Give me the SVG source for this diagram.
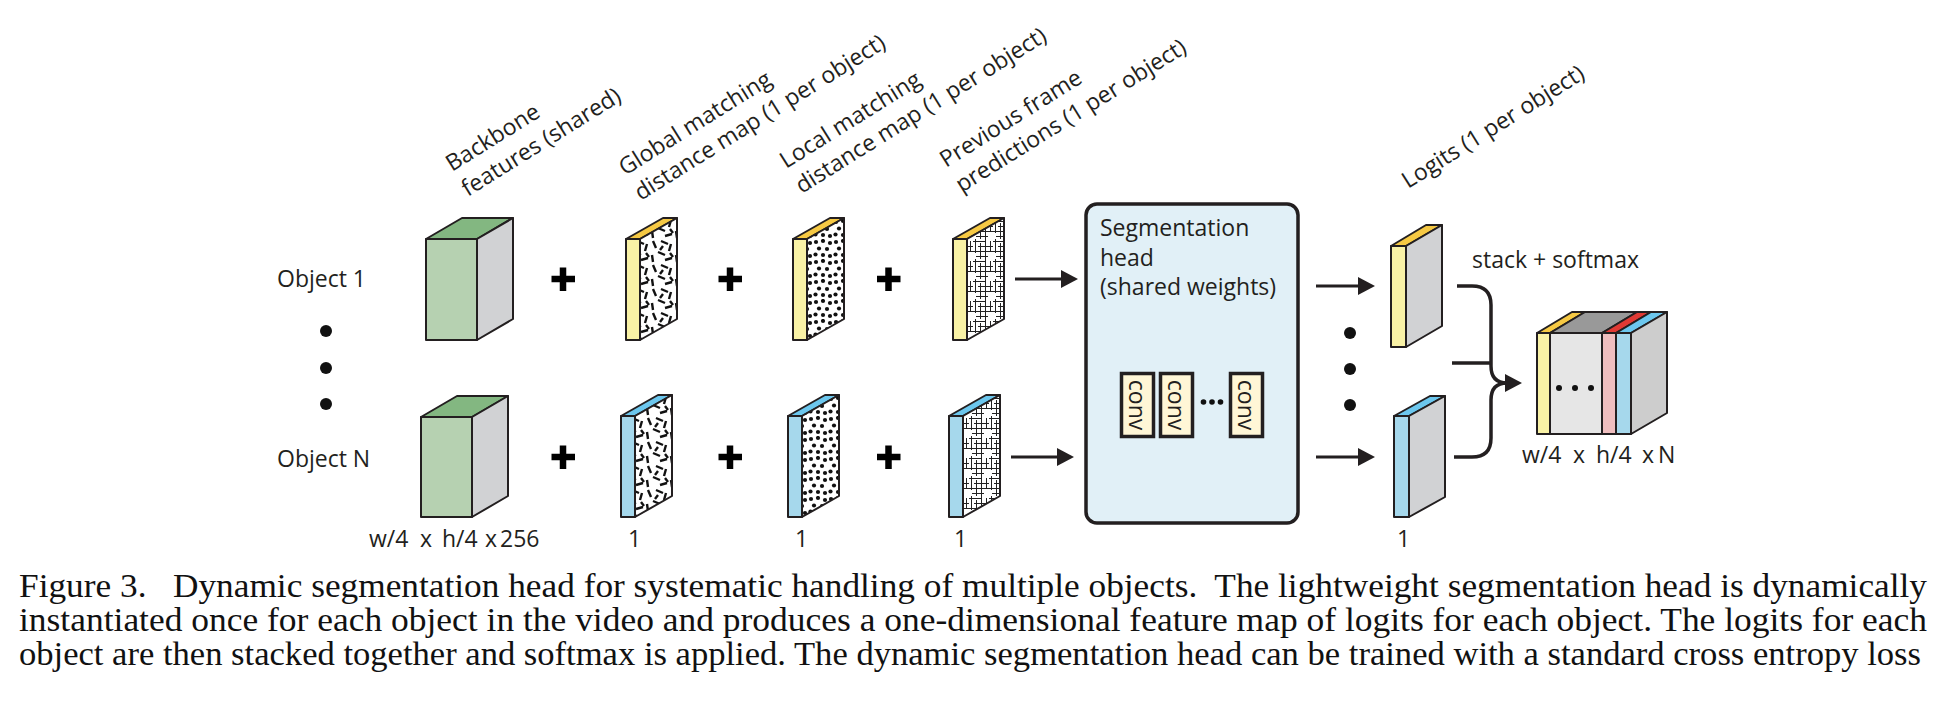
<svg xmlns="http://www.w3.org/2000/svg" width="1946" height="704" viewBox="0 0 1946 704">
<defs>
<style>
.t{font-family:"Open Sans","Noto Sans",sans-serif;font-size:23px;fill:#231F20}
.cap{font-family:"Liberation Serif","Times New Roman",serif;font-size:33px;fill:#111}
.o{stroke:#231F20;stroke-width:2;stroke-linejoin:round}
.yf{fill:#F9F2A6}.yt{fill:#F6C944}.bf{fill:#A6D8EC}.bt{fill:#6CC7EE}
.gs{fill:#D1D2D4}
.gf{fill:#B6D1B1}.gt{fill:#83B781}
.plus{stroke:#000;stroke-width:6.5;fill:none}
.arr{stroke:#231F20;stroke-width:3;fill:none}
.conv{fill:#FFF6D6;stroke:#231F20;stroke-width:3.5}
</style>
<marker id="ah" markerUnits="userSpaceOnUse" markerWidth="18" markerHeight="18" refX="2" refY="9" orient="auto">
<path d="M0,0 L17,9 L0,18 z" fill="#231F20"/>
</marker>
<pattern id="dash" patternUnits="userSpaceOnUse" width="24" height="24">
<rect width="24" height="24" fill="#fff"/>
<path d="M3,2 l3,7 M11,2 l7,3 M21,5 l-2,7 M8,13 l7,3 M2,16 l1,7 M15,21 l7,-2 M13,7 l-3,4 M20,14 l3,4" stroke="#111" stroke-width="2.4" fill="none"/>
</pattern>
<pattern id="dots" patternUnits="userSpaceOnUse" width="20" height="20">
<rect width="20" height="20" fill="#fff"/>
<g fill="#111">
<circle cx="3" cy="3" r="2.1"/><circle cx="10" cy="2" r="2.1"/><circle cx="17" cy="4" r="2.1"/>
<circle cx="6" cy="9.5" r="2.1"/><circle cx="14" cy="10" r="2.1"/>
<circle cx="2.5" cy="15.5" r="2.1"/><circle cx="10" cy="16" r="2.1"/><circle cx="17" cy="17" r="2.1"/>
</g>
</pattern>
<pattern id="hatch" patternUnits="userSpaceOnUse" width="20" height="20">
<rect width="20" height="20" fill="#fff"/>
<path d="M0,2.5 H13 M5,7.5 H20 M0,12.5 H20 M3,17.5 H15 M2.5,0 V14 M7.5,4 V20 M12.5,0 V20 M17.5,2 V12" stroke="#222" stroke-width="1" fill="none"/>
</pattern>
</defs>
<rect width="1946" height="704" fill="#fff"/>

<!-- labels -->
<g id="labels" class="t">
<text class="t" transform="translate(452,172) rotate(-32)"><tspan x="0" y="0">Backbone</tspan><tspan x="0" y="29.5">features (shared)</tspan></text>
<text class="t" transform="translate(625,176) rotate(-32)"><tspan x="0" y="0">Global matching</tspan><tspan x="0" y="29.5">distance map (1 per object)</tspan></text>
<text class="t" transform="translate(786,169) rotate(-32)"><tspan x="0" y="0">Local matching</tspan><tspan x="0" y="29.5">distance map (1 per object)</tspan></text>
<text class="t" transform="translate(946,168) rotate(-32)"><tspan x="0" y="0">Previous frame</tspan><tspan x="0" y="29.5">predictions (1 per object)</tspan></text>
<text class="t" transform="translate(1408,189) rotate(-32)">Logits (1 per object)</text>
<text class="t" x="277" y="287">Object 1</text>
<text class="t" x="277" y="467">Object N</text>
<text class="t" y="547"><tspan x="369">w/4</tspan><tspan x="420">x</tspan><tspan x="442">h/4</tspan><tspan x="485">x</tspan><tspan x="500">256</tspan></text>
<text class="t" x="628" y="547">1</text>
<text class="t" x="795" y="547">1</text>
<text class="t" x="954" y="547">1</text>
<text class="t" x="1397" y="547">1</text>
<text class="t" x="1472" y="268">stack + softmax</text>
<text class="t" y="463"><tspan x="1522">w/4</tspan><tspan x="1573">x</tspan><tspan x="1596">h/4</tspan><tspan x="1642">x</tspan><tspan x="1658">N</tspan></text>
</g>

<!-- vertical ellipsis dots -->
<g id="dots-left" fill="#111">
<circle cx="326" cy="331" r="6"/><circle cx="326" cy="368" r="6"/><circle cx="326" cy="404" r="6"/>
</g>
<g id="dots-right" fill="#111">
<circle cx="1350" cy="333" r="6"/><circle cx="1350" cy="369" r="6"/><circle cx="1350" cy="405" r="6"/>
</g>

<!-- plus signs -->
<g id="plus-signs" class="plus">
<path d="M551.5,279 H575 M563,267.5 V291"/>
<path d="M718.5,279 H742 M730,267.5 V291"/>
<path d="M877,279 H900.5 M888.5,267.5 V291"/>
<path d="M551.5,457 H575 M563,445.5 V469"/>
<path d="M718.5,457 H742 M730,445.5 V469"/>
<path d="M877,457 H900.5 M888.5,445.5 V469"/>
</g>

<!-- backbone -->
<g id="obj1-backbone" transform="translate(426,239)">
<rect class="o gf" width="51" height="101"/>
<polygon class="o gt" points="0,0 36,-21 87,-21 51,0"/>
<polygon class="o gs" points="51,0 87,-21 87,80 51,101"/>
</g>
<g id="objN-backbone" transform="translate(421,417)">
<rect class="o gf" width="51" height="100"/>
<polygon class="o gt" points="0,0 36,-21 87,-21 51,0"/>
<polygon class="o gs" points="51,0 87,-21 87,79 51,100"/>
</g>

<!-- global matching -->
<g id="obj1-global" transform="translate(626,239)">
<rect class="o yf" width="14" height="101"/>
<polygon class="o yt" points="0,0 37,-21 51,-21 14,0"/>
<polygon class="o" fill="url(#dash)" points="14,0 51,-21 51,80 14,101"/>
</g>
<g id="objN-global" transform="translate(621,416)">
<rect class="o bf" width="14" height="101"/>
<polygon class="o bt" points="0,0 37,-21 51,-21 14,0"/>
<polygon class="o" fill="url(#dash)" points="14,0 51,-21 51,80 14,101"/>
</g>

<!-- local matching -->
<g id="obj1-local" transform="translate(793,239)">
<rect class="o yf" width="14" height="101"/>
<polygon class="o yt" points="0,0 37,-21 51,-21 14,0"/>
<polygon class="o" fill="url(#dots)" points="14,0 51,-21 51,80 14,101"/>
</g>
<g id="objN-local" transform="translate(788,416)">
<rect class="o bf" width="14" height="101"/>
<polygon class="o bt" points="0,0 37,-21 51,-21 14,0"/>
<polygon class="o" fill="url(#dots)" points="14,0 51,-21 51,80 14,101"/>
</g>

<!-- previous frame -->
<g id="obj1-prev" transform="translate(953,239)">
<rect class="o yf" width="14" height="101"/>
<polygon class="o yt" points="0,0 37,-21 51,-21 14,0"/>
<polygon class="o" fill="url(#hatch)" points="14,0 51,-21 51,80 14,101"/>
</g>
<g id="objN-prev" transform="translate(949,416)">
<rect class="o bf" width="14" height="101"/>
<polygon class="o bt" points="0,0 37,-21 51,-21 14,0"/>
<polygon class="o" fill="url(#hatch)" points="14,0 51,-21 51,80 14,101"/>
</g>

<!-- segmentation head -->
<g id="seg-head">
<rect x="1086" y="204" width="212" height="319" rx="11" fill="#E1F0F7" stroke="#231F20" stroke-width="3.5"/>
<text class="t"><tspan x="1100" y="236">Segmentation</tspan><tspan x="1100" y="265.5">head</tspan><tspan x="1100" y="295">(shared weights)</tspan></text>
<rect class="conv" x="1121.5" y="373.5" width="32" height="63"/>
<rect class="conv" x="1160.5" y="373.5" width="32" height="63"/>
<rect class="conv" x="1230.5" y="373.5" width="32" height="63"/>
<text class="t" font-size="20" text-anchor="middle" dominant-baseline="central" transform="translate(1137.5,405) rotate(90)">conv</text>
<text class="t" font-size="20" text-anchor="middle" dominant-baseline="central" transform="translate(1176.5,405) rotate(90)">conv</text>
<text class="t" font-size="20" text-anchor="middle" dominant-baseline="central" transform="translate(1246.5,405) rotate(90)">conv</text>
<g fill="#111"><circle cx="1203.5" cy="402" r="2.8"/><circle cx="1212" cy="402" r="2.8"/><circle cx="1220.5" cy="402" r="2.8"/></g>
</g>

<!-- logits -->
<g id="obj1-logits" transform="translate(1391,246)">
<rect class="o yf" width="15" height="101"/>
<polygon class="o yt" points="0,0 35,-21 51,-21 15,0"/>
<polygon class="o gs" points="15,0 51,-21 51,80 15,101"/>
</g>
<g id="objN-logits" transform="translate(1394,416)">
<rect class="o bf" width="15" height="101"/>
<polygon class="o bt" points="0,0 36,-20 51,-20 15,0"/>
<polygon class="o gs" points="15,0 51,-20 51,81 15,101"/>
</g>

<!-- stacked output -->
<g id="stacked-output" transform="translate(1537,333)">
<rect class="o yf" x="0" width="13" height="101"/>
<rect class="o" fill="#E6E6E6" x="13" width="52" height="101"/>
<rect class="o" fill="#EFBEBF" x="65" width="14" height="101"/>
<rect class="o bf" x="79" width="15" height="101"/>
<polygon class="o yt" points="0,0 35,-21 48,-21 13,0"/>
<polygon class="o" fill="#999" points="13,0 48,-21 100,-21 65,0"/>
<polygon class="o" fill="#E03A34" points="65,0 100,-21 114,-21 79,0"/>
<polygon class="o bt" points="79,0 114,-21 130,-21 94,0"/>
<polygon class="o" fill="#CDCDCD" points="94,0 130,-21 130,80 94,101"/>
<g fill="#111"><circle cx="22" cy="55" r="3"/><circle cx="38" cy="55" r="3"/><circle cx="54" cy="55" r="3"/></g>
</g>

<!-- connectors -->
<g id="connectors" class="arr">
<path d="M1015,279 H1063" marker-end="url(#ah)"/>
<path d="M1011,457 H1059" marker-end="url(#ah)"/>
<path d="M1316,286 H1360" marker-end="url(#ah)"/>
<path d="M1316,457 H1360" marker-end="url(#ah)"/>
<path d="M1457,286 H1472 Q1491,286 1491,305 V366 Q1491,383 1507,383" stroke-width="3.5" marker-end="url(#ah)"/>
<path d="M1454,457 H1472 Q1491,457 1491,438 V400 Q1491,383 1507,383" stroke-width="3.5"/>
<path d="M1452,363 H1491" stroke-width="3.5"/>
</g>

<!-- caption -->
<g id="caption">
<text class="cap" x="19" y="597" textLength="1908" lengthAdjust="spacingAndGlyphs" xml:space="preserve">Figure 3.   Dynamic segmentation head for systematic handling of multiple objects.  The lightweight segmentation head is dynamically</text>
<text class="cap" x="19" y="631" textLength="1908" lengthAdjust="spacingAndGlyphs">instantiated once for each object in the video and produces a one-dimensional feature map of logits for each object. The logits for each</text>
<text class="cap" x="19" y="665" textLength="1902" lengthAdjust="spacingAndGlyphs">object are then stacked together and softmax is applied. The dynamic segmentation head can be trained with a standard cross entropy loss</text>
</g>
</svg>
